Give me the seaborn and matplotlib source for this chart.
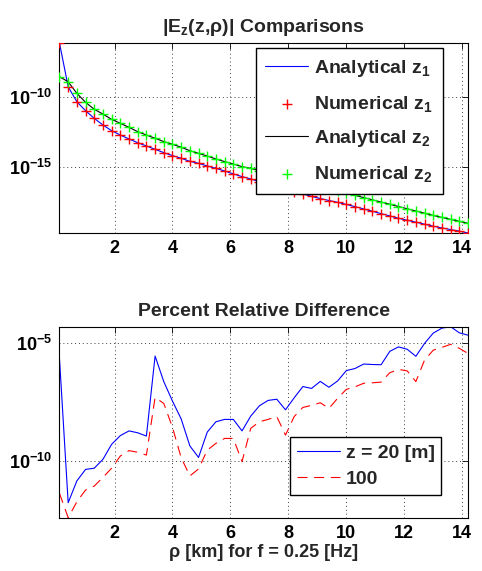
import numpy as np
import matplotlib
matplotlib.use("Agg")
import matplotlib.pyplot as plt
import seaborn as sns

# rho grid [km]
rho = [0.1, 0.4, 0.7, 1.0, 1.3, 1.6, 1.9, 2.2, 2.5, 2.8, 3.1, 3.4, 3.7, 4.0, 4.3, 4.6,
       4.9, 5.2, 5.5, 5.8, 6.1, 6.4, 6.7, 7.0, 7.3, 7.6, 7.9, 8.2, 8.5, 8.8, 9.1, 9.4,
       9.7, 10.0, 10.3, 10.6, 10.9, 11.2, 11.5, 11.8, 12.1, 12.4, 12.7, 13.0, 13.3, 13.6,
       13.9, 14.2]

# log10 |Ez| at z1 and z2
log_ez_z1 = [-6.16, -9.29, -10.36, -11.00, -11.55, -12.02, -12.43, -12.74, -13.02, -13.29,
             -13.52, -13.76, -14.00, -14.21, -14.40, -14.62, -14.76, -14.95, -15.12, -15.31,
             -15.52, -15.71, -15.88, -16.07, -16.25, -16.42, -16.60, -16.78, -16.95, -17.12,
             -17.28, -17.42, -17.55, -17.70, -17.86, -18.02, -18.19, -18.36, -18.52, -18.69,
             -18.83, -18.97, -19.11, -19.26, -19.38, -19.50, -19.61, -19.74]
log_ez_z2 = [-8.57, -8.93, -9.76, -10.40, -10.90, -11.24, -11.62, -11.90, -12.19, -12.50,
             -12.74, -12.97, -13.21, -13.40, -13.61, -13.86, -14.05, -14.24, -14.45, -14.64,
             -14.81, -15.00, -15.12, -15.29, -15.45, -15.61, -15.77, -15.93, -16.09, -16.25,
             -16.41, -16.57, -16.73, -16.89, -17.05, -17.21, -17.37, -17.53, -17.69, -17.85,
             -18.01, -18.17, -18.33, -18.49, -18.63, -18.77, -18.91, -19.05]

# log10 percent relative difference
log_diff_20 = [-5.64, -11.79, -10.86, -10.37, -10.32, -9.94, -9.30, -8.93, -8.73, -8.81,
               -8.95, -5.54, -6.63, -7.46, -8.22, -9.37, -9.86, -8.78, -8.34, -8.24,
               -8.24, -8.73, -8.10, -7.66, -7.43, -7.38, -7.83, -7.32, -6.84, -6.92,
               -6.62, -6.87, -6.60, -6.16, -6.07, -5.88, -5.90, -5.91, -5.34, -5.15,
               -5.25, -5.55, -5.00, -4.56, -4.35, -4.29, -4.55, -4.65]
log_diff_100 = [-11.39, -12.43, -11.75, -11.25, -11.08, -10.71, -10.32, -9.80, -9.57, -9.64,
                -9.76, -7.30, -7.56, -8.58, -9.87, -10.65, -10.35, -9.55, -9.26, -9.05,
                -9.05, -10.04, -8.62, -8.34, -8.24, -8.12, -8.91, -8.12, -7.73, -7.64,
                -7.53, -7.77, -7.34, -6.96, -6.85, -6.70, -6.68, -6.65, -6.25, -6.11,
                -6.17, -6.63, -5.71, -5.29, -5.17, -5.04, -5.21, -5.43]

xticks = [2, 4, 6, 8, 10, 12, 14]

sns.set_style("white")
plt.rcParams['font.family'] = ['Liberation Sans', 'DejaVu Sans']
plt.rcParams['font.weight'] = 'bold'
plt.rcParams['mathtext.fontset'] = 'custom'
plt.rcParams['mathtext.rm'] = 'Liberation Sans:bold'
plt.rcParams['mathtext.it'] = 'Liberation Sans:bold'
plt.rcParams['mathtext.bf'] = 'Liberation Sans:bold'
plt.rcParams['mathtext.default'] = 'bf'

x = np.array(rho)
ez1 = 10.0 ** np.array(log_ez_z1)
ez2 = 10.0 ** np.array(log_ez_z2)
d20 = 10.0 ** np.array(log_diff_20)
d100 = 10.0 ** np.array(log_diff_100)

fig = plt.figure(figsize=(4.82, 5.71), dpi=100)
ax1 = fig.add_axes([0.1234, 0.592, 0.8476, 0.3327])
ax2 = fig.add_axes([0.1234, 0.0933, 0.8476, 0.3345])

lw = 0.8
sns.lineplot(x=x, y=ez1, color=(0, 0, 1), lw=lw, label='Analytical z$_1$', ax=ax1)
sns.scatterplot(x=x, y=ez1, color=(1, 0, 0), marker='+', s=45, linewidth=1.0,
                label='Numerical z$_1$', ax=ax1, zorder=3)
sns.lineplot(x=x, y=ez2, color='k', lw=lw, label='Analytical z$_2$', ax=ax1)
sns.scatterplot(x=x, y=ez2, color=(0, 1, 0), marker='+', s=45, linewidth=1.0,
                label='Numerical z$_2$', ax=ax1, zorder=3)

sns.lineplot(x=x, y=d20, color=(0, 0, 1), lw=lw, label='z = 20 [m]', ax=ax2)
sns.lineplot(x=x, y=d100, color=(1, 0, 0), lw=lw, label='100', ax=ax2)
ax2.lines[1].set_dashes((9, 6))

for ax, yt, ys in [(ax1, [1e-15, 1e-10], [ez1, ez2]), (ax2, [1e-10, 1e-5], [d20, d100])]:
    ax.set_yscale('log')
    ax.set_xlim(x[0], x[-1])
    lo = min(v.min() for v in ys)
    hi = max(v.max() for v in ys)
    ax.set_ylim(lo, hi)
    ax.set_xticks(xticks)
    ax.set_xticklabels([str(t) for t in xticks])
    ax.set_yticks(yt)
    ax.set_yticklabels([r'$10^{%d}$' % int(round(np.log10(t))) for t in yt])
    ax.minorticks_off()
    ax.tick_params(direction='in', length=4, width=0.6, top=True, right=True,
                   labelsize=13, pad=5, colors='k')
    ax.grid(True, which='major', color='0.25', linestyle=(0, (1, 3)), linewidth=0.7)
    for s in ax.spines.values():
        s.set_color('k')
        s.set_linewidth(0.8)
    ax.set_xlabel('')
    ax.set_ylabel('')

ax1.set_title('|E$_z$(z,ρ)| Comparisons', fontsize=14, fontweight='bold', pad=8)
ax2.set_title('Percent Relative Difference', fontsize=14, fontweight='bold', pad=8)
ax2.set_xlabel('ρ [km] for f = 0.25 [Hz]', fontsize=13, fontweight='bold', labelpad=2)

leg_kw = dict(fontsize=14, frameon=True, fancybox=False, shadow=False, borderaxespad=0,
              handlelength=2.2, handletextpad=0.3, framealpha=1)
l1 = ax1.legend(loc='upper right', bbox_to_anchor=(0.938, 0.972),
                borderpad=0.5, labelspacing=0.75, **leg_kw)
l2 = ax2.legend(loc='lower right', bbox_to_anchor=(0.935, 0.119),
                borderpad=0.35, labelspacing=0.45, **leg_kw)
for lg in (l1, l2):
    lg.get_frame().set_edgecolor('k')
    lg.get_frame().set_linewidth(1.0)

fig.savefig('out.png', dpi=100)
